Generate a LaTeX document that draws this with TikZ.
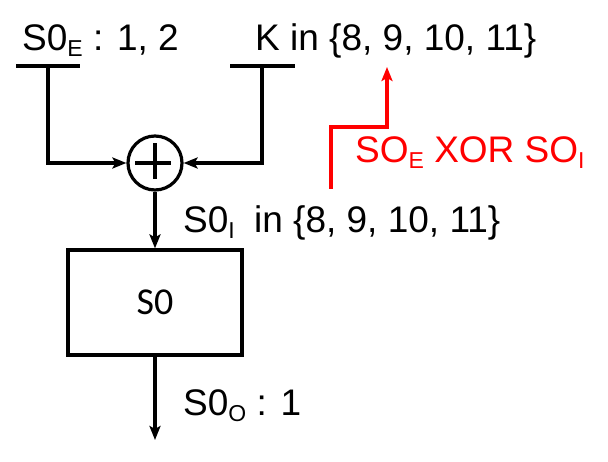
\documentclass[tikz,border=0pt]{standalone}
\usepackage{fontspec}
\setmainfont{Liberation Sans}
\newfontfamily\calfont{Carlito}
\usetikzlibrary{arrows.meta}
\newcommand\subtxt[1]{\raisebox{-6pt}{\fontsize{23}{26}\selectfont #1}}
\begin{document}
\begin{tikzpicture}[x={(1pt,0)},y={(0,-1pt)},
  ln/.style={line width=3.2pt},
  arr/.style={ln,-{Stealth[length=14pt,width=11pt,inset=3pt]}},
  lbl/.style={font=\fontsize{37}{40}\selectfont, inner sep=0pt, anchor=base west}]
\useasboundingbox (0,0) rectangle (608,462);
% text
\node[lbl] (se) at (22,50.5) {S0\subtxt{E} : 1, 2};
\node[lbl] (kin) at (255,50.5) {K in \{8, 9, 10, 11\}};
\node[lbl] (si) at (183,233) {S0\subtxt{I}\hspace{9pt} in \{8, 9, 10, 11\}};
\node[lbl] (so) at (183,415) {S0\subtxt{O} : 1};
\node[lbl,text=red] (red) at (355,163) {SO\subtxt{E} XOR SO\subtxt{I}};
% xor
\node[ln,draw,circle,minimum size=54pt,inner sep=0pt] (xor) at (155,163) {};
\draw[ln] (xor.north) ++(0,9) coordinate (pt) -- ++(0,36) coordinate (pb);
\draw[ln] (xor.west) ++(9,0) coordinate (pl) -- ++(36,0) coordinate (pr);
% box
\node[ln,draw,minimum width=174pt,minimum height=105pt,inner sep=0pt,
  font=\calfont\fontsize{38}{40}\selectfont] (box) at (155,302.5) {S0};
% bars
\coordinate (lbL) at (16,66); \coordinate (lbR) at (80,66); \coordinate (lbM) at (48,66);
\coordinate (rbL) at (230,66); \coordinate (rbR) at (295,66); \coordinate (rbM) at (262,66);
\draw[ln] (lbL) -- (lbR);
\draw[ln] (rbL) -- (rbR);
\draw[arr] (lbM) |- (xor.west);
\draw[arr] (rbM) |- (xor.east);
\draw[arr] (xor.south) -- (box.north);
\coordinate (outend) at (155,440);
\draw[arr] (box.south) -- (outend);
% red
\coordinate (r1) at (331,189); \coordinate (r2) at (331,127);
\coordinate (r3) at (387,127); \coordinate (r4) at (387,67);
\draw[ln,red,-{Stealth[length=14pt,width=11pt,inset=3pt]}] (r1) -- (r2) -- (r3) -- (r4);
\end{tikzpicture}
\end{document}
